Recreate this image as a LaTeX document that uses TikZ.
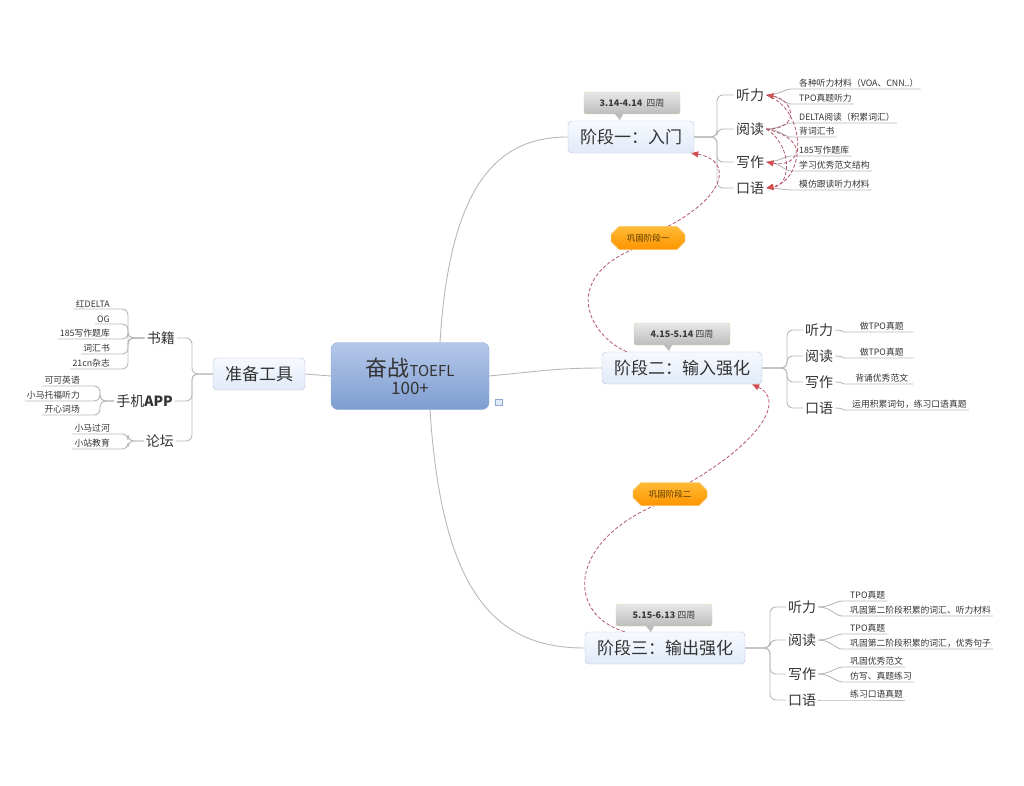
\documentclass[tikz,border=0pt]{standalone}
\usepackage{fontspec}
\setmainfont{Noto Sans CJK SC}
\usepackage{tikz}
\usetikzlibrary{arrows.meta,shapes.misc,backgrounds}
\definecolor{ink}{HTML}{333333}
\definecolor{roottop}{HTML}{B5C8E9}
\definecolor{rootbot}{HTML}{7E9DD1}
\definecolor{rootline}{HTML}{8DA6CF}
\definecolor{topictop}{HTML}{F6F9FE}
\definecolor{topicbot}{HTML}{E2EAF8}
\definecolor{topicline}{HTML}{B3C3DB}
\definecolor{datetop}{HTML}{E8E8E8}
\definecolor{datebot}{HTML}{BCBCBC}
\definecolor{dateline}{HTML}{DCD2A0}
\definecolor{dateink}{HTML}{3C3C3C}
\definecolor{linktop}{HTML}{FFBA35}
\definecolor{linkbot}{HTML}{FF9500}
\definecolor{linkline}{HTML}{F5C46A}
\definecolor{linkink}{HTML}{5A3A00}
\definecolor{branchc}{HTML}{B8B8B8}
\definecolor{relc}{HTML}{B4566A}
\definecolor{arrowc}{HTML}{D24E4E}

\begin{document}
\begin{tikzpicture}[x=1pt,y=-1pt,>=Stealth,
  root/.style={draw=rootline,rounded corners=7pt,top color=roottop,bottom color=rootbot,minimum width=158pt,minimum height=67pt,align=center,text=ink},
  topic/.style={draw=topicline,rounded corners=4pt,top color=topictop,bottom color=topicbot,minimum height=32pt,inner xsep=12pt,font=\fontsize{17}{20}\selectfont,text=ink},
  sub/.style={inner sep=2pt,font=\fontsize{14}{16}\selectfont,text=ink},
  leaf/.style={inner xsep=2pt,inner ysep=1.5pt,font=\fontsize{8.8}{10}\selectfont,text=ink},
  wideleaf/.style={leaf,minimum width=63pt},
  datebox/.style={draw=dateline,rounded corners=2pt,top color=datetop,bottom color=datebot,minimum height=22pt,minimum width=96pt,font=\fontsize{9}{10}\selectfont,text=dateink},
  linkbox/.style={chamfered rectangle,chamfered rectangle xsep=4pt,chamfered rectangle ysep=4pt,draw=linkline,top color=linktop,bottom color=linkbot,minimum width=74pt,minimum height=23pt,inner sep=1pt,font=\fontsize{8.5}{10}\selectfont,text=linkink},
  branch/.style={draw=branchc,line width=0.9pt,rounded corners=6pt},
  rel/.style={draw=relc,line width=0.8pt,dash pattern=on 3.5pt off 2pt},
  relarrow/.style={rel,-{Triangle[length=7pt,width=6pt,color=arrowc]}}]
\useasboundingbox (0,0) rectangle (1024,786);

\node[root] (root) at (410,376) {\fontsize{22}{26}\selectfont 奋战{\fontsize{15}{17}\selectfont TOEFL}\\[3pt]{\fontsize{17}{19}\selectfont 100+}};
\node[draw=rootline,fill=topicbot,minimum width=7pt,minimum height=6pt,inner sep=0pt] (note) at (499,402) {};

\node[topic] (tools) at (259,374) {准备工具};
\node[sub,anchor=east] (books) at (177,338) {书籍};
\node[sub,anchor=east] (app) at (175,401) {手机\textbf{APP}};
\node[sub,anchor=east] (forum) at (176,441) {论坛};
\node[leaf,anchor=south east] (b1) at (112,309) {红DELTA};
\node[leaf,anchor=south east] (b2) at (112,324) {OG};
\node[leaf,anchor=south east] (b3) at (112,339) {185写作题库};
\node[leaf,anchor=south east] (b4) at (112,354) {词汇书};
\node[leaf,anchor=south east] (b5) at (112,369) {21cn杂志};
\node[leaf,anchor=south east] (a1) at (82,386) {可可英语};
\node[leaf,anchor=south east] (a2) at (82,401) {小马托福听力};
\node[leaf,anchor=south east] (a3) at (82,415) {开心词场};
\node[leaf,anchor=south east] (f1) at (112,434) {小马过河};
\node[leaf,anchor=south east] (f2) at (112,449) {小站教育};

\node[topic] (stage1) at (631,137) {阶段一：入门};
\node[datebox] (date1) at (632,103) {\textbf{3.14-4.14}\ \ 四周};
\node[sub,anchor=west] (s1listen) at (734,95) {听力};
\node[sub,anchor=west] (s1read) at (734,129) {阅读};
\node[sub,anchor=west] (s1write) at (734,162) {写作};
\node[sub,anchor=west] (s1speak) at (734,188) {口语};
\node[leaf,anchor=south west] (l11) at (797,89) {各种听力材料（VOA、CNN..）};
\node[leaf,anchor=south west] (l12) at (797,104) {TPO真题听力};
\node[leaf,anchor=south west] (l21) at (797,123) {DELTA阅读（积累词汇）};
\node[leaf,anchor=south west] (l22) at (797,137) {背词汇书};
\node[leaf,anchor=south west] (l31) at (797,156) {185写作题库};
\node[leaf,anchor=south west] (l32) at (797,171) {学习优秀范文结构};
\node[leaf,anchor=south west] (l41) at (797,190) {模仿跟读听力材料};

\node[topic] (stage2) at (682,368) {阶段二：输入强化};
\node[datebox] (date2) at (682,334) {\textbf{4.15-5.14} 四周};
\node[sub,anchor=west] (s2listen) at (803,330) {听力};
\node[sub,anchor=west] (s2read) at (803,356) {阅读};
\node[sub,anchor=west] (s2write) at (803,382) {写作};
\node[sub,anchor=west] (s2speak) at (803,408) {口语};
\node[wideleaf,anchor=south west] (m1) at (850,332) {做TPO真题};
\node[wideleaf,anchor=south west] (m2) at (850,358) {做TPO真题};
\node[wideleaf,anchor=south west] (m3) at (850,384) {背诵优秀范文};
\node[wideleaf,anchor=south west] (m4) at (850,410) {运用积累词句，练习口语真题};

\node[topic] (stage3) at (665,648) {阶段三：输出强化};
\node[datebox] (date3) at (664,615) {\textbf{5.15-6.13} 四周};
\node[sub,anchor=west] (s3listen) at (786,607) {听力};
\node[sub,anchor=west] (s3read) at (786,640) {阅读};
\node[sub,anchor=west] (s3write) at (786,674) {写作};
\node[sub,anchor=west] (s3speak) at (786,700) {口语};
\node[leaf,anchor=south west] (n11) at (848,601) {TPO真题};
\node[leaf,anchor=south west] (n12) at (848,616) {巩固第二阶段积累的词汇、听力材料};
\node[leaf,anchor=south west] (n21) at (848,634) {TPO真题};
\node[leaf,anchor=south west] (n22) at (848,649) {巩固第二阶段积累的词汇，优秀句子};
\node[leaf,anchor=south west] (n31) at (848,667) {巩固优秀范文};
\node[leaf,anchor=south west] (n32) at (848,682) {仿写、真题练习};
\node[leaf,anchor=south west] (n41) at (848,700) {练习口语真题};

\node[linkbox] (link1) at (648,238) {巩固阶段一};
\node[linkbox] (link2) at (670,494) {巩固阶段二};

\fill[datebot] ([xshift=-17pt]date1.south) -- ++(8,0) -- ++(-3,6) -- cycle;
\fill[datebot] ([xshift=-18pt]date2.south) -- ++(8,0) -- ++(-3,6) -- cycle;
\fill[datebot] ([xshift=-18pt]date3.south) -- ++(8,0) -- ++(-3,6) -- cycle;

\begin{scope}[on background layer]
\draw[branch] (root.west) -- (tools.east);
\draw[branch] ([xshift=30pt]root.north) .. controls (450,180) and (500,137) .. (stage1.west);
\draw[branch] (root.east) .. controls (540,371) and (560,368) .. (stage2.west);
\draw[branch] ([xshift=20pt]root.south) .. controls (442,600) and (500,648) .. (stage3.west);

\draw[branch] (tools.west) -- (192,374) |- (books.east);
\draw[branch] (tools.west) -- (192,374) |- (app.east);
\draw[branch] (tools.west) -- (192,374) |- (forum.east);
\foreach \l in {b1,b2,b3,b4,b5}
  \draw[branch] (books.west) -- (128,338) |- (\l.south east) -- (\l.south west);
\foreach \l in {a1,a2,a3}
  \draw[branch] (app.west) -- (100,401) |- (\l.south east) -- (\l.south west);
\foreach \l in {f1,f2}
  \draw[branch] (forum.west) -- (128,441) |- (\l.south east) -- (\l.south west);

\foreach \c in {s1listen,s1read,s1write,s1speak}
  \draw[branch] (stage1.east) -- (717,137) |- (\c.west);
\draw[branch] (s1listen.east) to[out=0,in=180] (l11.south west) -- (l11.south east);
\draw[branch] (s1listen.east) to[out=0,in=180] (l12.south west) -- (l12.south east);
\draw[branch] (s1read.east) to[out=0,in=180] (l21.south west) -- (l21.south east);
\draw[branch] (s1read.east) to[out=0,in=180] (l22.south west) -- (l22.south east);
\draw[branch] (s1write.east) to[out=0,in=180] (l31.south west) -- (l31.south east);
\draw[branch] (s1write.east) to[out=0,in=180] (l32.south west) -- (l32.south east);
\draw[branch] (s1speak.east) to[out=0,in=180] (l41.south west) -- (l41.south east);

\foreach \c in {s2listen,s2read,s2write,s2speak}
  \draw[branch] (stage2.east) -- (787,368) |- (\c.west);
\draw[branch] (s2listen.east) to[out=0,in=180] (m1.south west) -- (m1.south east);
\draw[branch] (s2read.east) to[out=0,in=180] (m2.south west) -- (m2.south east);
\draw[branch] (s2write.east) to[out=0,in=180] (m3.south west) -- (m3.south east);
\draw[branch] (s2speak.east) to[out=0,in=180] (m4.south west) -- (m4.south east);

\foreach \c in {s3listen,s3read,s3write,s3speak}
  \draw[branch] (stage3.east) -- (770,648) |- (\c.west);
\draw[branch] (s3listen.east) to[out=0,in=180] (n11.south west) -- (n11.south east);
\draw[branch] (s3listen.east) to[out=0,in=180] (n12.south west) -- (n12.south east);
\draw[branch] (s3read.east) to[out=0,in=180] (n21.south west) -- (n21.south east);
\draw[branch] (s3read.east) to[out=0,in=180] (n22.south west) -- (n22.south east);
\draw[branch] (s3write.east) to[out=0,in=180] (n31.south west) -- (n31.south east);
\draw[branch] (s3write.east) to[out=0,in=180] (n32.south west) -- (n32.south east);
\draw[branch] (s3speak.east) to[out=0,in=180] (n41.south west) -- (n41.south east);

\draw[rel] ([xshift=25pt]stage2.north west) .. controls (588,335) and (562,280) .. ([xshift=-16pt]link1.south);
\draw[relarrow] ([xshift=20pt]link1.north) .. controls (728,195) and (732,160) .. ([xshift=-3pt]stage1.south east);
\draw[rel] ([xshift=40pt]stage3.north west) .. controls (568,615) and (566,545) .. ([xshift=-16pt]link2.south);
\draw[relarrow] ([xshift=20pt]link2.north) .. controls (762,440) and (785,400) .. ([xshift=-10pt]stage2.south east);

\draw[relarrow] (s1read.east) .. controls (800,130) and (795,100) .. (s1listen.east);
\draw[relarrow] (s1listen.east) .. controls (808,110) and (806,180) .. (s1speak.east);
\draw[relarrow] (s1read.east) .. controls (812,140) and (798,168) .. (s1write.east);
\draw[relarrow] (s1read.east) .. controls (792,145) and (792,185) .. (s1speak.east);
\end{scope}
\end{tikzpicture}
\end{document}
